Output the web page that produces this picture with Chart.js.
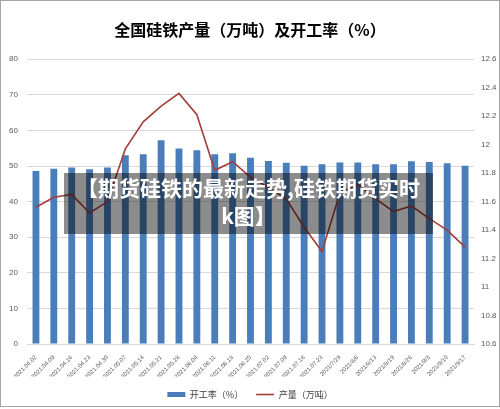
<!DOCTYPE html>
<html lang="zh">
<head>
    <meta charset="UTF-8">
    <title>全国硅铁产量及开工率</title>
    <script src="https://cdn.jsdelivr.net/npm/chart.js"></script>
    <style>
        body { margin: 0; background: #ffffff; }
        .wrap { position: relative; width: 500px; height: 409px; }
        .frame {
            position: absolute; left: 0; top: 0; width: 500px; height: 407px;
            box-sizing: border-box; border: 1px solid #a6a6a6; pointer-events: none;
        }
        .banner {
            position: absolute; left: 64px; top: 173px; width: 369px; height: 61px;
            background: rgba(0, 0, 0, 0.45); color: #ffffff;
            font: bold 21px 'Noto Sans CJK SC', sans-serif;
            line-height: 28px; text-align: center;
        }
    </style>
</head>
<body>
    <div class="wrap">
        <canvas id="chart" width="500" height="409"></canvas>
        <div class="banner">【期货硅铁的最新走势,硅铁期货实时<br>k图】</div>
        <div class="frame"></div>
    </div>

    <script>
        // 日期
        const dates = [
            '2021.04.02', '2021.04.09', '2021.04.16', '2021.04.23', '2021.04.30',
            '2021.05.07', '2021.05.14', '2021.05.21', '2021.05.28', '2021.06.04',
            '2021.06.11', '2021.06.18', '2021.06.25', '2021.07.02', '2021.07.09',
            '2021.07.16', '2021.07.23', '2021/7/29', '2021/8/6', '2021/8/13',
            '2021/8/19', '2021/8/26', '2021/9/3', '2021/9/10', '2021/9/17'
        ];
        // 开工率（%）
        const rate = [
            48.6, 49.2, 49.6, 49.1, 49.6, 53.0, 53.3, 57.2, 54.9, 54.4,
            53.3, 53.6, 52.3, 51.4, 50.9, 50.1, 50.5, 51.0, 51.0, 50.5,
            50.5, 51.3, 51.1, 50.8, 50.1
        ];
        // 产量（万吨）
        const output = [
            11.56, 11.63, 11.65, 11.52, 11.60, 11.97, 12.16, 12.27, 12.36, 12.21,
            11.82, 11.88, 11.77, 11.70, 11.62, 11.42, 11.25, 11.66, 11.72, 11.62,
            11.53, 11.57, 11.48, 11.40, 11.28
        ];

        const tickFont = { family: "'Liberation Sans', 'Noto Sans CJK SC', sans-serif", size: 8 };
        const cjk = "'Noto Sans CJK SC', sans-serif";

        new Chart(document.getElementById('chart'), {
            data: {
                labels: dates,
                datasets: [
                    {
                        type: 'line',
                        label: '产量（万吨）',
                        data: output,
                        yAxisID: 'y1',
                        borderColor: '#a33e3a',
                        backgroundColor: '#a33e3a',
                        borderWidth: 1.6,
                        pointRadius: 0,
                        pointStyle: 'line',
                        tension: 0,
                        order: 1
                    },
                    {
                        type: 'bar',
                        label: '开工率（%）',
                        data: rate,
                        yAxisID: 'y',
                        backgroundColor: '#4a7ebb',
                        barPercentage: 0.8,
                        categoryPercentage: 0.48,
                        pointStyle: 'rect',
                        order: 2
                    }
                ]
            },
            options: {
                responsive: false,
                animation: false,
                layout: { padding: { left: 0, right: 0, top: 0, bottom: 0 } },
                plugins: {
                    title: {
                        display: true,
                        text: '全国硅铁产量（万吨）及开工率（%）',
                        color: '#000000',
                        font: { family: cjk, size: 16, weight: 'bold' },
                        padding: { top: 20, bottom: 20 }
                    },
                    legend: {
                        position: 'bottom',
                        reverse: true,
                        labels: {
                            usePointStyle: true,
                            pointStyleWidth: 18,
                            boxHeight: 5,
                            padding: 13,
                            color: '#404040',
                            font: { family: cjk, size: 9 }
                        }
                    },
                    tooltip: { enabled: false }
                },
                scales: {
                    x: {
                        grid: { display: false },
                        border: { display: true, color: '#d9d9d9' },
                        ticks: {
                            autoSkip: false,
                            minRotation: 45,
                            maxRotation: 45,
                            padding: 2,
                            color: '#595959',
                            font: { family: tickFont.family, size: 6 }
                        },
                        afterFit: s => { s.height = 33; }
                    },
                    y: {
                        position: 'left',
                        min: 0,
                        max: 80,
                        grid: { color: '#d9d9d9', drawTicks: false },
                        border: { display: false },
                        ticks: { stepSize: 10, padding: 9, color: '#595959', font: tickFont },
                        afterFit: s => { s.width = 27; }
                    },
                    y1: {
                        position: 'right',
                        min: 10.6,
                        max: 12.6,
                        grid: { display: false, drawTicks: false },
                        border: { display: false },
                        ticks: {
                            stepSize: 0.2,
                            padding: 7,
                            color: '#595959',
                            font: tickFont,
                            callback: v => String(Number(v.toFixed(1)))
                        },
                        afterFit: s => { s.width = 26; }
                    }
                }
            }
        });
    </script>
</body>
</html>
